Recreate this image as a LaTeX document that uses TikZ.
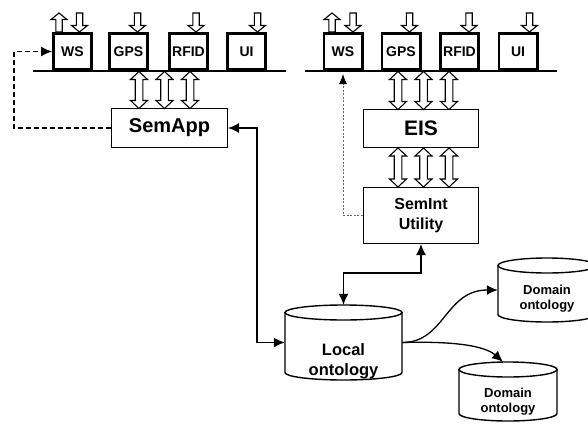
\documentclass[tikz,border=0pt]{standalone}
\usepackage{fontspec}
\setmainfont{Liberation Sans}
\usetikzlibrary{arrows.meta}

\tikzset{
  dev/.style={draw, fill=white, line width=2.6pt, minimum width=38.4pt, minimum height=36.4pt,
    inner sep=0pt, font=\bfseries\fontsize{14}{16}\selectfont},
  unit/.style={draw, fill=white, line width=1.4pt, inner sep=0pt, align=center},
  hollow/.style={draw, fill=white, line width=1.1pt, line join=miter},
  bus/.style={line width=1.1pt},
  dbline/.style={line width=1.4pt, fill=white},
  dbtext/.style={align=center, inner sep=0pt},
  link/.style={line width=1.3pt},
  tipend/.style={-{Latex[length=11pt,width=10pt]}},
  tipboth/.style={{Latex[length=11pt,width=10pt]}-{Latex[length=11pt,width=10pt]}},
  feedback/.style={line width=1.1pt, dash pattern=on 5pt off 3pt, -{Latex[length=11pt,width=10pt]}},
  trace/.style={line width=0.8pt, gray!80!black, dash pattern=on 2pt off 1.6pt,
    -{Latex[black,length=10pt,width=8pt]}},
}

% hollow single arrow pointing down: x, top y, tip y
\newcommand\hollowdown[3]{%
  \draw[hollow] ({#1-3.2},{-#2}) -- ({#1+3.2},{-#2}) -- ({#1+3.2},{-(#3-6.5)})
    -- ({#1+8},{-(#3-6.5)}) -- ({#1},{-#3}) -- ({#1-8},{-(#3-6.5)})
    -- ({#1-3.2},{-(#3-6.5)}) -- cycle;}
% hollow single arrow pointing up: x, tip y, bottom y
\newcommand\hollowup[3]{%
  \draw[hollow] ({#1-3.2},{-#3}) -- ({#1+3.2},{-#3}) -- ({#1+3.2},{-(#2+6.5)})
    -- ({#1+8},{-(#2+6.5)}) -- ({#1},{-#2}) -- ({#1-8},{-(#2+6.5)})
    -- ({#1-3.2},{-(#2+6.5)}) -- cycle;}
% hollow double arrow: x, top tip y, bottom tip y
\newcommand\hollowboth[3]{%
  \draw[hollow] ({#1},{-#2}) -- ({#1+8.5},{-(#2+8)}) -- ({#1+3.8},{-(#2+8)})
    -- ({#1+3.8},{-(#3-8)}) -- ({#1+8.5},{-(#3-8)}) -- ({#1},{-#3})
    -- ({#1-8.5},{-(#3-8)}) -- ({#1-3.8},{-(#3-8)}) -- ({#1-3.8},{-(#2+8)})
    -- ({#1-8.5},{-(#2+8)}) -- cycle;}
% database drum: centre x, top y, bottom y, half width, ellipse radius
\newcommand\drum[5]{%
  \draw[dbline] ({#1-#4},{-(#2+#5)}) -- ({#1-#4},{-(#3-#5)})
    arc[start angle=180, end angle=360, x radius=#4, y radius=#5]
    -- ({#1+#4},{-(#2+#5)}) -- cycle;
  \draw[dbline] (#1,{-(#2+#5)}) ellipse[x radius=#4, y radius=#5];}

\begin{document}
\begin{tikzpicture}[x=1pt, y=1pt]
\useasboundingbox (0,0) rectangle (588,-423);
\clip (0,0) rectangle (588,-423);

% ---- buses ----
\draw[bus] (33,-71) -- (286,-71);
\draw[bus] (305,-71) -- (557,-71);

% ---- device boxes, left ----
\node[dev] (ws1)   at (72.5,-51.5)  {WS};
\node[dev] (gps1)  at (128.5,-51.5) {GPS};
\node[dev] (rfid1) at (188.5,-51.5) {RFID};
\node[dev] (ui1)   at (246.5,-51.5) {UI};
% ---- device boxes, right ----
\node[dev] (ws2)   at (343,-51.5)   {WS};
\node[dev] (gps2)  at (401,-51.5)   {GPS};
\node[dev] (rfid2) at (459.5,-51.5) {RFID};
\node[dev] (ui2)   at (518,-51.5)   {UI};

% ---- device inputs / outputs ----
\hollowup{59}{13}{32}
\hollowdown{79.5}{13}{32}
\hollowdown{137.5}{13}{32}
\hollowdown{196}{13}{32}
\hollowdown{257.5}{13}{32}
\hollowup{332}{13}{32}
\hollowdown{353}{13}{32}
\hollowdown{409.5}{13}{32}
\hollowdown{469}{13}{32}
\hollowdown{529.5}{13}{32}

% ---- application layers ----
\node[unit, minimum width=115.6pt, minimum height=38.6pt,
      font=\bfseries\fontsize{20}{24}\selectfont] (semapp) at (169.5,-128) {SemApp};
\node[unit, minimum width=114.6pt, minimum height=37.6pt,
      font=\bfseries\fontsize{21}{24}\selectfont] (eis) at (421,-128.5) {EIS};
\node[unit, minimum width=114.6pt, minimum height=55.6pt,
      font=\bfseries\fontsize{16}{20}\selectfont] (semint) at (421,-215.5) {SemInt\\Utility};

% ---- bus <-> layer exchanges ----
\hollowboth{139}{71.5}{108.5}
\hollowboth{164.5}{71.5}{108.5}
\hollowboth{190}{71.5}{108.5}
\hollowboth{398}{71.5}{109.5}
\hollowboth{423.5}{71.5}{109.5}
\hollowboth{449}{71.5}{109.5}
\hollowboth{398}{148}{187}
\hollowboth{423.5}{148}{187}
\hollowboth{449}{148}{187}

% ---- ontologies ----
\drum{343.5}{305}{380}{58.5}{7.5}
\node[minimum width=117pt, minimum height=75pt, inner sep=0pt] (local) at (343.5,-342.5) {};
\node[dbtext, font=\bfseries\fontsize{16.5}{20}\selectfont] (localtext) at (343.5,-361) {Local\\ontology};

\drum{547}{258}{322}{49}{7.5}
\node[minimum width=98pt, minimum height=64pt, inner sep=0pt] (dom1) at (547,-290) {};
\node[dbtext, font=\bfseries\fontsize{13}{15}\selectfont] (dom1text) at (547,-298.5) {Domain\\ontology};

\drum{508}{362}{421}{49}{7.5}
\node[minimum width=98pt, minimum height=59pt, inner sep=0pt] (dom2) at (508,-391.5) {};
\node[dbtext, font=\bfseries\fontsize{13}{15}\selectfont] (dom2text) at (508,-401.5) {Domain\\ontology};

% ---- connectors ----
\draw[feedback] (semapp.west) -- (14,-128) |- (ws1.west);
\draw[link, tipboth] (semapp.east) -- (257,-128) |- (local.west);
\draw[link, tipboth] (semint.south) -- (421,-273) -| (local.north);
\draw[trace] (semint.west) -| ([yshift=-3pt]ws2.south);
\draw[link, tipend] (local.east) .. controls (445,-342.5) and (445,-290) .. (dom1.west);
\draw[link, tipend] (local.east) .. controls (455,-341) and (485,-346) .. ([xshift=-5pt]dom2.north);
\end{tikzpicture}
\end{document}
